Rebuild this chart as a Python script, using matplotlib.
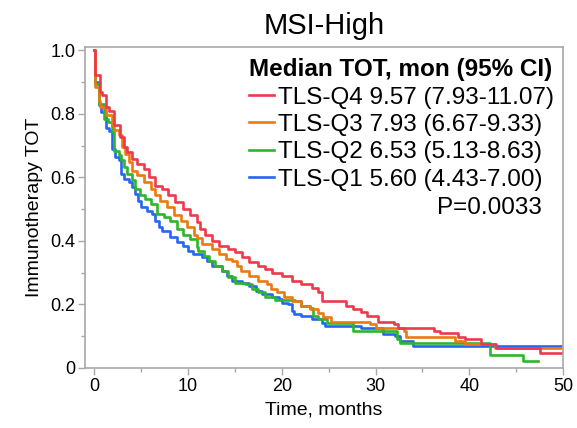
import matplotlib
matplotlib.use("Agg")
import matplotlib.pyplot as plt
from matplotlib.ticker import MultipleLocator, FuncFormatter

plt.rcParams['font.family'] = ['Liberation Sans', 'DejaVu Sans']

# step-post Kaplan-Meier style curves (months, fraction still on therapy)
q4_t = [0, 0.1, 0.57, 0.8, 1.28, 1.53, 2.06, 2.77, 3.12, 3.48, 4.0, 4.55, 5.26, 5.8, 6.5, 7.2,
        7.9, 8.6, 9.5, 10.2, 10.9, 11.3, 11.8, 12.5, 13.25, 14.3, 15.0, 15.75, 16.45, 17.5, 18.2,
        18.95, 20.0, 21.1, 22.1, 23.2, 23.9, 24.3, 26.9, 27.6, 28.4, 29.1, 30.3, 32.0, 32.4,
        36.2, 36.9, 38.8, 39.5, 41.2, 42.9, 47.5, 50.0]
q4_s = [1.0, 0.921, 0.868, 0.858, 0.82, 0.81, 0.763, 0.727, 0.695, 0.68, 0.658, 0.643, 0.627,
        0.60, 0.574, 0.564, 0.543, 0.521, 0.50, 0.48, 0.458, 0.437, 0.42, 0.40, 0.385, 0.374,
        0.364, 0.348, 0.332, 0.322, 0.311, 0.30, 0.29, 0.274, 0.264, 0.253, 0.238, 0.211, 0.195,
        0.185, 0.175, 0.165, 0.145, 0.138, 0.127, 0.117, 0.111, 0.096, 0.091, 0.077, 0.064,
        0.048, 0.048]

q3_t = [0, 0.05, 0.46, 0.65, 1.2, 1.9, 2.06, 2.6, 2.95, 3.3, 3.66, 4.0, 4.55, 5.26, 6.0, 6.5,
        7.0, 7.75, 8.45, 9.2, 9.9, 10.6, 11.0, 11.5, 12.5, 13.25, 14.0, 14.7, 15.2, 15.6, 16.45,
        17.5, 18.4, 18.8, 19.5, 20.2, 21.1, 22.1, 23.0, 23.9, 24.4, 25.3, 29.4, 30.1, 33.0, 33.3,
        38.5, 39.5, 42.8, 50.0]
q3_s = [1.0, 0.884, 0.84, 0.82, 0.795, 0.763, 0.748, 0.732, 0.695, 0.674, 0.648, 0.621, 0.606,
        0.585, 0.564, 0.543, 0.527, 0.506, 0.48, 0.464, 0.443, 0.42, 0.409, 0.39, 0.374, 0.359,
        0.343, 0.338, 0.322, 0.306, 0.29, 0.274, 0.264, 0.248, 0.238, 0.222, 0.211, 0.196, 0.185,
        0.174, 0.159, 0.146, 0.139, 0.127, 0.117, 0.098, 0.085, 0.077, 0.064, 0.064]

q2_t = [0, 0.05, 0.46, 1.07, 1.5, 1.88, 2.06, 2.6, 2.8, 3.12, 3.5, 4.0, 4.3, 4.9, 5.4, 6.0, 6.7,
        7.4, 8.1, 8.8, 9.5, 10.2, 10.9, 11.1, 11.65, 12.2, 12.9, 13.6, 14.3, 15.0, 16.1, 16.8,
        17.5, 18.2, 19.3, 21.4, 22.1, 23.0, 23.35, 23.9, 24.8, 27.6, 32.3, 32.6, 42.2, 45.7, 47.3]
q2_s = [1.0, 0.895, 0.832, 0.785, 0.774, 0.742, 0.684, 0.669, 0.653, 0.632, 0.611, 0.59, 0.564,
        0.543, 0.532, 0.516, 0.485, 0.474, 0.464, 0.437, 0.42, 0.405, 0.38, 0.369, 0.353, 0.338,
        0.322, 0.306, 0.285, 0.269, 0.264, 0.248, 0.238, 0.222, 0.215, 0.211, 0.196, 0.19, 0.164,
        0.153, 0.14, 0.117, 0.09, 0.08, 0.041, 0.022, 0.022]

q1_t = [0, 0.05, 0.46, 0.75, 1.2, 1.6, 1.9, 2.24, 2.6, 2.8, 3.12, 3.66, 4.0, 4.3, 4.7, 5.0, 5.6,
        6.15, 6.5, 6.85, 7.2, 8.1, 8.8, 9.5, 10.0, 10.5, 11.5, 12.0, 12.5, 13.6, 14.1, 14.7, 15.75,
        16.45, 17.2, 17.9, 18.95, 19.65, 20.0, 20.7, 21.1, 21.25, 22.1, 23.2, 24.3, 24.6, 28.5,
        30.8, 32.1, 32.6, 34.0, 50.0]
q1_s = [1.0, 0.90, 0.826, 0.805, 0.754, 0.745, 0.69, 0.663, 0.653, 0.611, 0.595, 0.585, 0.569,
        0.548, 0.527, 0.506, 0.495, 0.485, 0.464, 0.443, 0.432, 0.411, 0.395, 0.385, 0.369, 0.359,
        0.348, 0.338, 0.322, 0.306, 0.29, 0.274, 0.269, 0.259, 0.243, 0.232, 0.222, 0.217, 0.206,
        0.20, 0.18, 0.169, 0.164, 0.153, 0.143, 0.132, 0.125, 0.106, 0.10, 0.085, 0.069, 0.069]

labels = ["TLS-Q4 9.57 (7.93-11.07)", "TLS-Q3 7.93 (6.67-9.33)",
          "TLS-Q2 6.53 (5.13-8.63)", "TLS-Q1 5.60 (4.43-7.00)"]
colors = ["#f0384c", "#ea7a10", "#2db52d", "#2666f2"]
p_text = "P=0.0033"

fig = plt.figure(figsize=(5.77, 4.28), dpi=100)
ax = fig.add_axes([0.1473, 0.1402, 0.8284, 0.7500])

curves = [(q4_t, q4_s), (q3_t, q3_s), (q2_t, q2_s), (q1_t, q1_s)]
lines = [None] * 4
# draw Q1 first so Q4 sits on top
for i in [3, 2, 1, 0]:
    t, s = curves[i]
    lines[i], = ax.step(t, s, where='post', color=colors[i], lw=1.9, label=labels[i])

ax.set_xlim(-1, 50)
ax.set_ylim(0, 1.01)
ax.xaxis.set_major_locator(MultipleLocator(10))
ax.xaxis.set_minor_locator(MultipleLocator(5))
ax.yaxis.set_major_locator(MultipleLocator(0.2))
ax.yaxis.set_minor_locator(MultipleLocator(0.1))
ax.yaxis.set_major_formatter(FuncFormatter(lambda v, p: "0" if abs(v) < 1e-9 else f"{v:.1f}"))

for sp in ax.spines.values():
    sp.set_color("#a8a8a8")
    sp.set_linewidth(1.2)
ax.tick_params(which='major', length=5, width=1.0, color="#a8a8a8", labelsize=13, pad=2)
ax.tick_params(which='minor', length=3, width=1.0, color="#a8a8a8")

ax.set_xlabel("Time, months", fontsize=14, labelpad=5)
ax.set_ylabel("Immunotherapy TOT", fontsize=14, labelpad=5)
ax.set_title("MSI-High", fontsize=21, pad=9)

leg = ax.legend(handles=lines, loc='upper right', bbox_to_anchor=(0.991, 0.98),
                frameon=False, fontsize=17.5,
                title="Median TOT, mon (95% CI)", alignment='left',
                title_fontproperties={'weight': 'bold', 'size': 17.5},
                handlelength=1.05, handletextpad=0.15, labelspacing=0.22,
                borderaxespad=0.0, borderpad=0.2)
ax.text(0.955, 0.498, p_text, transform=ax.transAxes, ha='right', va='center', fontsize=17.5)

fig.savefig("out.png", dpi=100)
